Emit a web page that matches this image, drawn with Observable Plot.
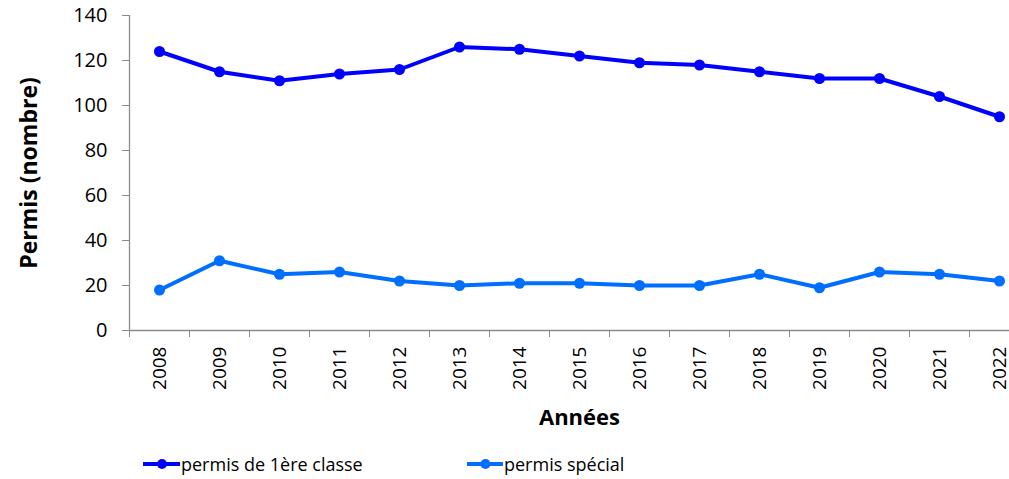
<!DOCTYPE html>
<html><head><meta charset="utf-8">
<script src="https://cdn.jsdelivr.net/npm/d3@7"></script>
<script src="https://cdn.jsdelivr.net/npm/@observablehq/plot@0.6"></script>
<style>
body{margin:0;background:#fff;font-family:"Open Sans",sans-serif;}
#legend{position:relative;height:34px;font-size:18px;color:#000;}
.item{position:absolute;top:4px;display:flex;align-items:center;height:30px;}
.item svg{display:block;}
</style>
</head><body>
<div id="chart"></div>
<div id="legend"></div>
<script>
const years = [2008,2009,2010,2011,2012,2013,2014,2015,2016,2017,2018,2019,2020,2021,2022];
const premiere = [124,115,111,114,116,126,125,122,119,118,115,112,112,104,95];
const special = [18,31,25,26,22,20,21,21,20,20,25,19,26,25,22];
const yTicks = [0,20,40,60,80,100,120,140];
const seriesNames = ["permis de 1ère classe","permis spécial"];
const colors = ["#0000FF","#006EFF"];

const data = [];
years.forEach((y,i)=>{
  data.push({year:y, value:premiere[i], s:seriesNames[0]});
  data.push({year:y, value:special[i], s:seriesNames[1]});
});
const bounds = years.map(y=>y-0.5).concat([years[years.length-1]+0.5]);

const W = 1009, H = 445;
const plot = Plot.plot({
  width: W, height: H,
  marginTop: 15, marginBottom: H-330, marginLeft: 129, marginRight: -20,
  style:{fontFamily:"Open Sans, sans-serif", background:"#fff"},
  x:{type:"linear", domain:[bounds[0], bounds[bounds.length-1]]},
  y:{domain:[0,140]},
  color:{domain:seriesNames, range:colors},
  marks:[
    Plot.ruleX([bounds[0]],{stroke:"#8c8c8c", strokeWidth:1.3}),
    Plot.ruleY([0],{stroke:"#8c8c8c", strokeWidth:1.3}),
    Plot.axisY({ticks:yTicks, tickSize:7, tickPadding:15, stroke:"#8c8c8c", fill:"#000", fontSize:20, label:null}),
    Plot.axisY({ticks:[], label:"Permis (nombre)", labelAnchor:"center", labelArrow:"none", labelOffset:109, fontSize:23, fontWeight:"bold", fill:"#000"}),
    Plot.axisX({ticks:bounds, tickSize:7, stroke:"#8c8c8c", tickFormat:()=>"", label:null}),
    Plot.axisX({ticks:years, tickSize:0, tickPadding:16, tickRotate:-90, fill:"#000", fontSize:19, tickFormat:d=>String(d), label:null}),
    Plot.line(data,{x:"year", y:"value", stroke:"s", strokeWidth:4}),
    Plot.dot(data,{x:"year", y:"value", fill:"s", r:5.5}),
    Plot.text(["Années"],{frameAnchor:"bottom", dy:94, fontSize:22, fontWeight:"bold", fill:"#000"})
  ]
});
document.getElementById("chart").appendChild(plot);

const leg = document.getElementById("legend");
const pos = [[143,181],[467,504]];
seriesNames.forEach((n,i)=>{
  const d = document.createElement("div");
  d.className="item";
  d.style.left = pos[i][0]+"px";
  const w = pos[i][1]-pos[i][0];
  d.innerHTML = `<svg width="${w}" height="14"><line x1="0" x2="${w-1}" y1="7" y2="7" stroke="${colors[i]}" stroke-width="4"/><circle cx="${w/2}" cy="7" r="5" fill="${colors[i]}"/></svg><span>${n}</span>`;
  leg.appendChild(d);
});
</script>
</body></html>
